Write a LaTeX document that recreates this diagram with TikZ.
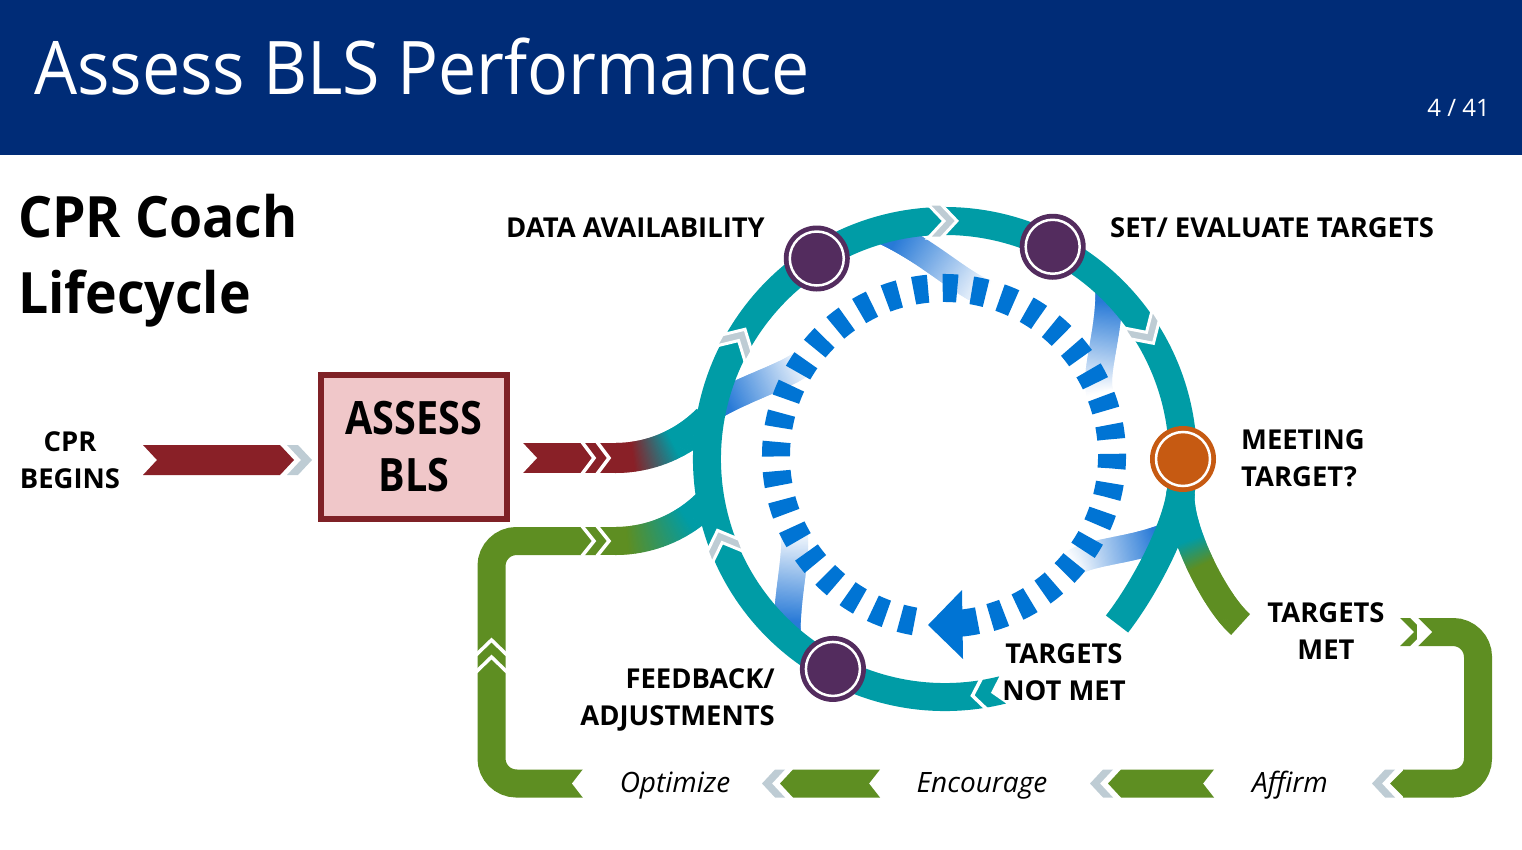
\documentclass[tikz,border=0pt]{standalone}
\usepackage{fontspec}
\setmainfont{Open Sans}
\newfontfamily\titlefont[FakeStretch=0.92]{Open Sans}
\newfontfamily\headfont[FakeStretch=0.94]{Open Sans}
\newfontfamily\condfont[FakeStretch=0.86]{Open Sans}
\usetikzlibrary{decorations.markings}
\definecolor{navy}{RGB}{0,44,119}
\definecolor{ringteal}{RGB}{0,156,166}
\definecolor{dotpurple}{RGB}{83,44,94}
\definecolor{dotorange}{RGB}{198,90,18}
\definecolor{bandred}{RGB}{137,32,39}
\definecolor{boxpink}{RGB}{240,199,201}
\definecolor{boxred}{RGB}{127,33,38}
\definecolor{bandgreen}{RGB}{94,142,34}
\definecolor{chevgrey}{RGB}{190,204,212}
\definecolor{dashblue}{RGB}{0,116,212}
\definecolor{spokeblue}{RGB}{40,122,215}
\tikzset{
  gstroke/.style n args={5}{postaction={decorate},
    decoration={markings, mark=between positions 0 and 1 step 1.2pt with {%
      \pgfmathsetmacro\gmix{min(100,max(0,((\pgfkeysvalueof{/pgf/decoration/mark info/distance from start})/(\pgfdecoratedpathlength)-#3)/(#4-#3)*100))}%
      \fill[#2!\gmix!#1] (-0.3pt,-#5) rectangle (1.6pt,#5);}}},
  lbl/.style={font=\bfseries\fontsize{27.4}{37}\selectfont, inner sep=0pt},
  ital/.style={font=\itshape\fontsize{28}{34}\selectfont, inner sep=0pt, anchor=base},
  wline/.style={white, line width=3.5pt, line join=miter},
  dotnode/.style={circle, fill=#1, minimum size=66pt, inner sep=0pt},
  greychev/.style={fill=chevgrey, draw=white, line width=3pt, line join=miter},
}
\begin{document}
\begin{tikzpicture}[x=1pt,y=-1pt]
\useasboundingbox (0,0) rectangle (1522,850);
% header
\fill[navy] (0,0) rectangle (1522,155);
\node[anchor=base west, inner sep=0pt, text=white, font=\titlefont\fontsize{74}{80}\selectfont] (title) at (34,95) {Assess BLS Performance};
\node[anchor=base east, inner sep=0pt, text=white, font=\fontsize{24}{28}\selectfont] (page) at (1490,117) {4 / 41};
\node[anchor=base west, inner sep=0pt, font=\headfont\bfseries\fontsize{57}{75}\selectfont] (h1) at (18,238) {CPR Coach};
\node[anchor=base west, inner sep=0pt, font=\headfont\bfseries\fontsize{57}{75}\selectfont] (h2) at (18,313) {Lifecycle};

\coordinate (O) at (945,459);
\coordinate (O2) at (944,456);

% spokes into the inner loop
\foreach \a/\d in {255/30,193/22,314/24,19/21,132/22}{
  \pgfmathsetmacro\aa{\a+0.35*\d}
  \pgfmathsetmacro\ab{\a+0.7*\d}
  \pgfmathsetmacro\ac{\a+\d}
  \path[gstroke={spokeblue}{white}{0.12}{1.0}{13.5pt}]
    ([shift={(\a:236)}]O) .. controls ([shift={(\aa:208)}]O) and ([shift={(\ab:172)}]O2) .. ([shift={(\ac:168)}]O2);
}

% red input band
\coordinate (redA) at (523,458);
\coordinate (redB) at (595,458);
\draw[bandred, line width=30pt] (redA) -- (596,458);
\path[gstroke={bandred}{ringteal}{0.31}{0.66}{15pt}] (redB) -- (615,458) arc[start angle=90,end angle=45,radius=130];
\fill[white] (522,442) -- (537,458) -- (522,474) -- cycle;
\draw[wline] (582,442) -- (594,458) -- (582,474);
\draw[wline] (597,442) -- (609,458) -- (597,474);

% green return loop (left)
\draw[bandgreen, line width=28pt] (583,783.5) -- (516.5,783.5) arc[start angle=90,end angle=180,radius=25] -- (491.5,566) arc[start angle=180,end angle=270,radius=25] -- (596,541);
\path[gstroke={bandgreen}{ringteal}{0.26}{0.79}{14pt}] (595,541) -- (615,541) arc[start angle=90,end angle=45,radius=130];
\fill[white] (584,768) -- (572,783.5) -- (584,799) -- cycle;
\draw[wline] (582,526) -- (594,541) -- (582,556);
\draw[wline] (597,526) -- (609,541) -- (597,556);
\draw[wline] (476,655) -- (491.5,640) -- (507,655);
\draw[wline] (476,672) -- (491.5,657) -- (507,672);

% branches after MEETING TARGET?
\coordinate (split) at ([shift={(8:238)}]O);
\path[gstroke={ringteal}{bandgreen}{0.33}{0.52}{14pt}] (split) .. controls +(95:35) and (1214,601) .. (1240,624);
\draw[ringteal, line width=28pt] (split) .. controls +(98:40) and (1141.6,592.5) .. (1117,624);

% main ring
\draw[ringteal, line width=28pt] ([shift={(76:238)}]O) arc[start angle=76,end angle=370,radius=238];
\fill[white, shift={([shift={(76:238)}]O)}, rotate=-166] (-2,-16) -- (12,0) -- (-2,16) -- cycle;
\draw[wline, shift={([shift={(80.5:238)}]O)}, rotate=-170.5] (0,-16) -- (12,0) -- (0,16);
\foreach \p in {159.2,209.6,269.5,327.6}{
  \pgfmathsetmacro\rr{-\p-90}
  \filldraw[greychev, shift={([shift={(\p:238)}]O)}, rotate=\rr] (-15,-17) -- (-2,-17) -- (14,0) -- (-2,17) -- (-15,17) -- (1,0) -- cycle;
}

% nodes on the ring
\node[dotnode=dotpurple] (dotda) at ([shift={(237.4:238)}]O) {};
\node[dotnode=dotpurple] (dotset) at ([shift={(296.9:238)}]O) {};
\node[dotnode=dotpurple] (dotfb) at ([shift={(118.1:238)}]O) {};
\node[dotnode=dotorange] (dotmt) at ([shift={(0:238)}]O) {};
\foreach \n in {dotda,dotset,dotfb,dotmt}{\draw[white, line width=2.5pt] (\n) circle[radius=27];}

% inner dashed loop
\draw[dashblue, line width=28pt, dash pattern=on 14.6pt off 14.63pt] ([shift={(100.1:168)}]O2) arc[start angle=100.1,end angle=434,radius=168];
\draw[dashblue, line width=27pt] ([shift={(78.5:168)}]O2) arc[start angle=78.5,end angle=85,radius=168];
\fill[dashblue] (962,590) -- (963,659) -- (928,625) -- cycle;

% green return loop (right) and bottom path
\fill[bandgreen] (1400,618) -- (1410,618) -- (1424,632) -- (1410,646) -- (1400,646) -- (1414,632) -- cycle;
\draw[bandgreen, line width=28pt] (1418,632) -- (1453,632) arc[start angle=270,end angle=360,radius=25] -- (1478,758.5) arc[start angle=0,end angle=90,radius=25] -- (1403,783.5);
\fill[white] (1417,617) -- (1432,632) -- (1417,647) -- cycle;
\fill[bandgreen] (1404,769.5) -- (1390,783.5) -- (1404,797.5) -- cycle;
\fill[chevgrey] (1372,783.5) -- (1385,769.5) -- (1395,769.5) -- (1382,783.5) -- (1395,797.5) -- (1385,797.5) -- cycle;
\fill[bandgreen] (1108,783.5) -- (1121,769.5) -- (1214,769.5) -- (1203,783.5) -- (1214,797.5) -- (1121,797.5) -- cycle;
\fill[chevgrey] (1090,783.5) -- (1103,769.5) -- (1113,769.5) -- (1100,783.5) -- (1113,797.5) -- (1103,797.5) -- cycle;
\fill[bandgreen] (780,783.5) -- (793,769.5) -- (880,769.5) -- (869,783.5) -- (880,797.5) -- (793,797.5) -- cycle;
\fill[chevgrey] (762,783.5) -- (775,769.5) -- (785,769.5) -- (772,783.5) -- (785,797.5) -- (775,797.5) -- cycle;

% CPR begins arrow and box
\fill[bandred] (143,445) -- (280,445) -- (294,460) -- (280,475) -- (143,475) -- (157,460) -- cycle;
\fill[chevgrey] (287,445) -- (298,445) -- (312,460) -- (298,475) -- (287,475) -- (301,460) -- cycle;
\node[draw=boxred, line width=6pt, fill=boxpink, minimum width=186pt, minimum height=144pt, inner sep=0pt, align=center, font=\condfont\bfseries\fontsize{46}{57}\selectfont] (box) at (414,447) {ASSESS\\BLS};

% labels
\node[lbl, anchor=base] (cpr1) at (70,451.5) {CPR};
\node[lbl, anchor=base] (cpr2) at (70,488.5) {BEGINS};
\node[lbl, anchor=base west] (lda) at (506,237.5) {DATA AVAILABILITY};
\node[lbl, anchor=base west] (lset) at (1110,237.5) {SET/ EVALUATE TARGETS};
\node[lbl, anchor=base west] (lmt1) at (1241,449.5) {MEETING};
\node[lbl, anchor=base west] (lmt2) at (1241,486.5) {TARGET?};
\node[lbl, anchor=base east] (lfb1) at (775,688.5) {FEEDBACK/};
\node[lbl, anchor=base east] (lfb2) at (775,725.5) {ADJUSTMENTS};
\node[lbl, anchor=base] (lnm1) at (1064,663.5) {TARGETS};
\node[lbl, anchor=base] (lnm2) at (1064,700.5) {NOT MET};
\node[lbl, anchor=base] (lm1) at (1326,622.5) {TARGETS};
\node[lbl, anchor=base] (lm2) at (1326,659.5) {MET};
\node[ital] (opt) at (675,792) {Optimize};
\node[ital] (enc) at (982,792) {Encourage};
\node[ital] (aff) at (1290,792) {Affirm};
\end{tikzpicture}
\end{document}
